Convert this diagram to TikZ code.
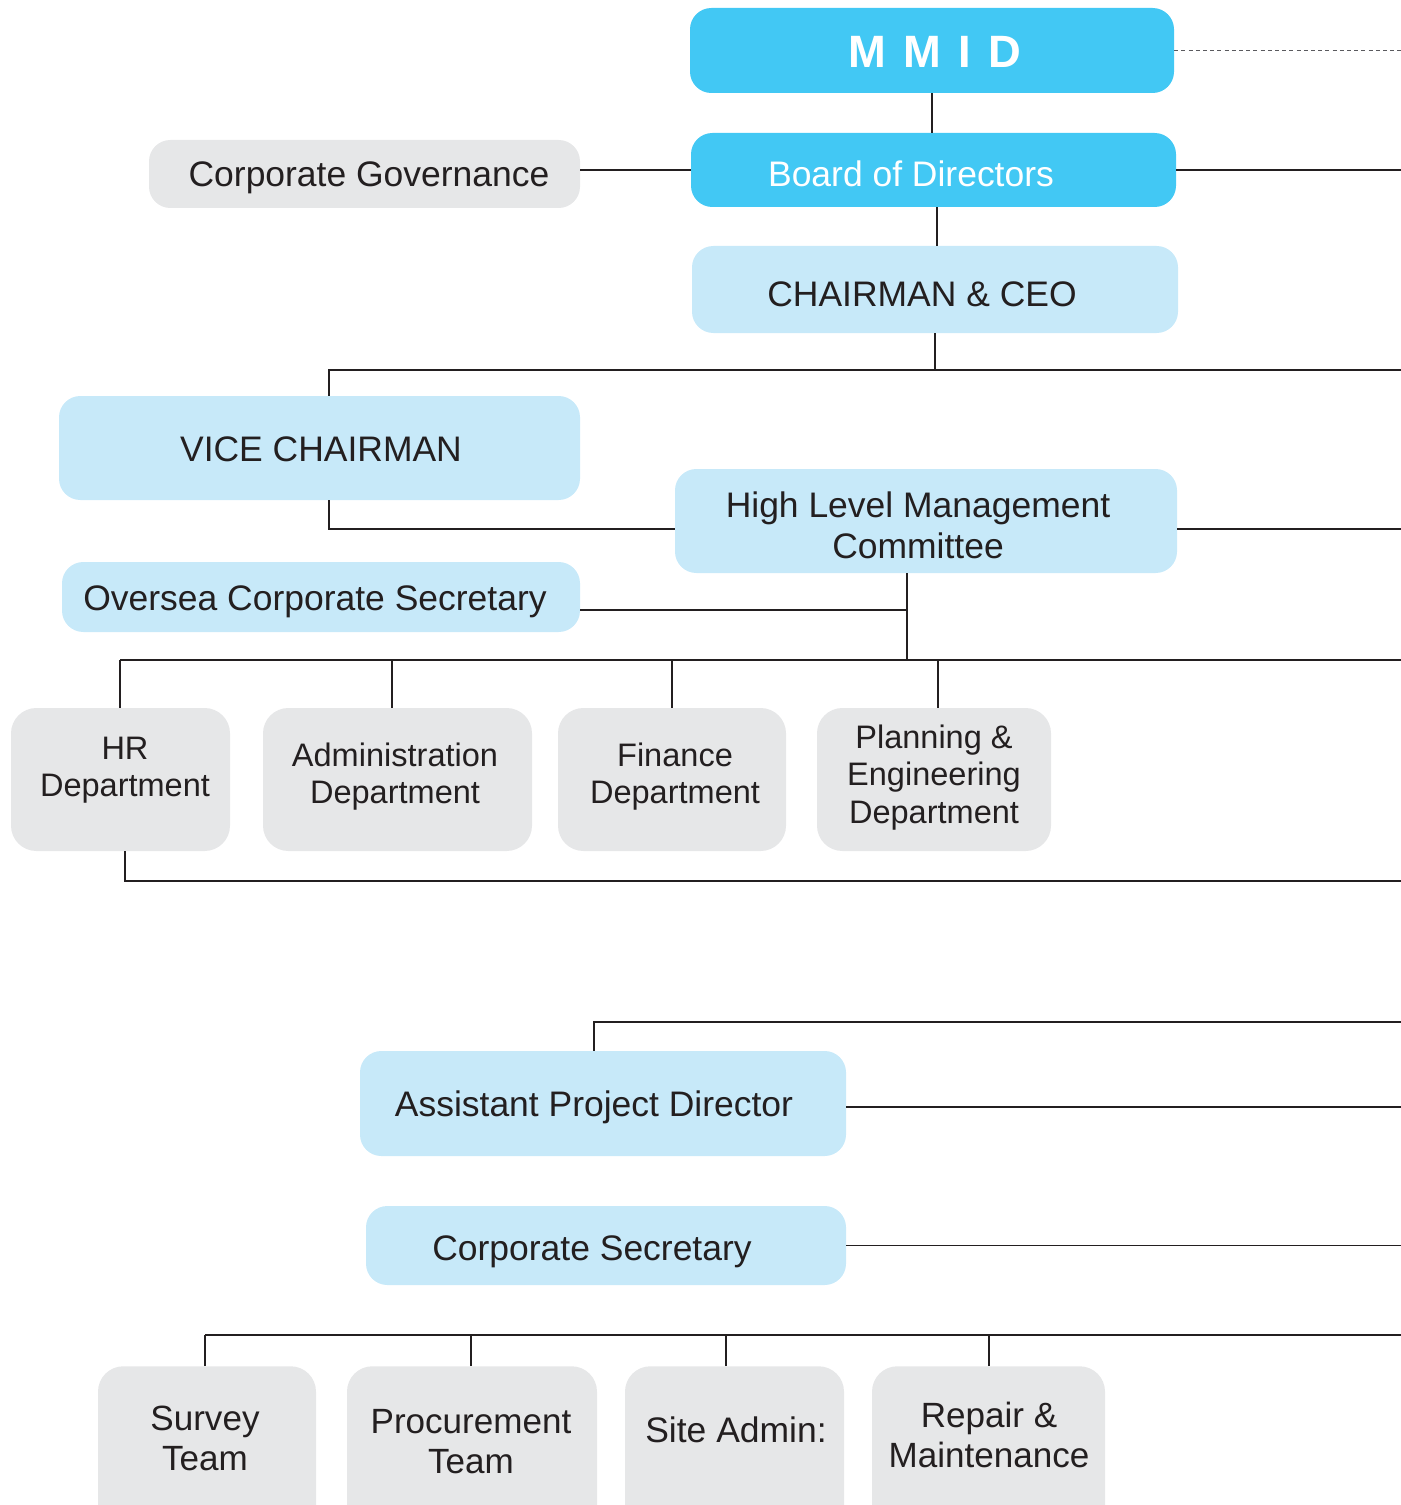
\documentclass[tikz,border=0pt]{standalone}
\usepackage{fontspec}
\setmainfont{Liberation Sans}
\definecolor{bblue}{RGB}{66,200,244}
\definecolor{lblue}{RGB}{199,233,249}
\definecolor{lgray}{RGB}{230,231,232}
\definecolor{ink}{RGB}{35,31,32}
\definecolor{dgray}{RGB}{90,90,94}
\begin{document}
\begin{tikzpicture}[x=0.75pt,y=-0.75pt,
  boxbase/.style={rectangle,rounded corners=16pt,draw=none,inner sep=0pt},
  darkbox/.style={boxbase,fill=bblue},
  lightbox/.style={boxbase,fill=lblue},
  graybox/.style={boxbase,fill=lgray},
  deptbox/.style={graybox,rounded corners=19pt},
  txt/.style={inner sep=0pt,text=ink,font=\fontsize{26.6}{31}\selectfont,text height=19.1pt,text depth=0pt},
  mtxt/.style={inner sep=0pt,text=ink,align=center},
  wtxt/.style={txt,text=white},
  conn/.style={draw=ink,line width=1pt},
  thickconn/.style={draw=ink,line width=1.8pt}]
\clip (0,0) rectangle (1401,1505);
\coordinate (R) at (1401,0);
% boxes
\node[darkbox,minimum width=363pt,minimum height=63.75pt] (mmid) at (932,50.5) {};
\node[darkbox,minimum width=363.75pt,minimum height=55.5pt] (board) at (933.5,170) {};
\node[graybox,minimum width=323.25pt,minimum height=51pt] (cg) at (364.5,174) {};
\node[lightbox,minimum width=364.5pt,minimum height=65.25pt] (ceo) at (935,289.5) {};
\node[lightbox,minimum width=390.75pt,minimum height=78pt] (vice) at (319.5,448) {};
\node[lightbox,minimum width=376.5pt,minimum height=78pt] (hlmc) at (926,521) {};
\node[lightbox,minimum width=388.5pt,minimum height=52.5pt] (ocs) at (321,597) {};
\node[deptbox,minimum width=164.25pt,minimum height=107.25pt] (hr) at (120.5,779.5) {};
\node[deptbox,minimum width=201.75pt,minimum height=107.25pt] (adm) at (397.5,779.5) {};
\node[deptbox,minimum width=171pt,minimum height=107.25pt] (fin) at (672,779.5) {};
\node[deptbox,minimum width=175.5pt,minimum height=107.25pt] (plan) at (934,779.5) {};
\node[lightbox,minimum width=364.5pt,minimum height=78.75pt] (apd) at (603,1103.5) {};
\node[lightbox,minimum width=360pt,minimum height=59.25pt] (cs) at (606,1245.5) {};
\node[deptbox,minimum width=163.5pt,minimum height=130pt,anchor=north] (survey) at (207,1366) {};
\node[deptbox,minimum width=187.5pt,minimum height=130pt,anchor=north] (proc) at (472,1366) {};
\node[deptbox,minimum width=164.25pt,minimum height=130pt,anchor=north] (site) at (734.5,1366) {};
\node[deptbox,minimum width=174.75pt,minimum height=130pt,anchor=north] (rep) at (988.5,1366) {};
% texts
\node[wtxt,font=\fontsize{34}{40}\selectfont\bfseries,text height=24.4pt] (mmidT) at (935,51) {M\hspace{13pt}M\hspace{13pt}I\hspace{13pt}D};
\node[wtxt] (boardT) at (911,173.5) {Board of Directors};
\node[txt] (cgT) at (369,174) {Corporate Governance};
\node[txt] (ceoT) at (922,294) {CHAIRMAN \& CEO};
\node[txt] (viceT) at (321,448.5) {VICE CHAIRMAN};
\node[mtxt,font=\fontsize{26.6}{30.75}\selectfont] (hlmcT) at (918,525.5) {High Level Management\\Committee};
\node[txt] (ocsT) at (315,598) {Oversea Corporate Secretary};
\node[mtxt,font=\fontsize{24.4}{28}\selectfont] (hrT) at (125,770) {HR\\Department};
\node[mtxt,font=\fontsize{24.4}{28}\selectfont] (admT) at (395,776.5) {Administration\\Department};
\node[mtxt,font=\fontsize{24.4}{28}\selectfont] (finT) at (675,776.5) {Finance\\Department};
\node[mtxt,font=\fontsize{24.4}{28}\selectfont] (planT) at (934,777.5) {Planning \&\\Engineering\\Department};
\node[txt] (apdT) at (594,1104) {Assistant Project Director};
\node[txt] (csT) at (592,1248) {Corporate Secretary};
\node[mtxt,font=\fontsize{26.3}{30}\selectfont] (surveyT) at (205,1438) {Survey\\Team};
\node[mtxt,font=\fontsize{26.3}{30}\selectfont] (procT) at (471,1442) {Procurement\\Team};
\node[txt] (siteT) at (736,1430) {Site Admin:};
\node[mtxt,font=\fontsize{26.3}{30}\selectfont] (repT) at (989,1435) {Repair \&\\Maintenance};
% connectors
\coordinate (vx) at (329,370);
\coordinate (vh) at (329,529);
\coordinate (oj) at (907,610);
\coordinate (dl) at (120,660);
\coordinate (dj) at (907,660);
\coordinate (hb) at (125,881);
\coordinate (ap) at (594,1022);
\coordinate (bl) at (205,1335);
\draw[draw=dgray,line width=1.3pt,dash pattern=on 3pt off 2.4pt] (mmid.east) -- (mmid.east -| R);
\draw[conn] (mmid.south) -- (mmid.south |- board.north);
\draw[conn] (cg.east |- board.west) -- (board.west);
\draw[conn] (board.east) -- (board.east -| R);
\draw[conn] ([xshift=2.6pt]board.south) -- ([xshift=2.6pt]board.south |- ceo.north);
\draw[conn] (ceo.south) -- (ceo.south |- vx);
\draw[conn] (vice.north -| vx) -- (vx) -- (vx -| R);
\draw[conn] (vice.south -| vh) -- (vh) -- (vh -| hlmc.west);
\draw[conn] (hlmc.east |- vh) -- (vh -| R);
\draw[conn] (ocs.east |- oj) -- (oj);
\draw[conn] (hlmc.south -| dj) -- (dj);
\draw[thickconn] (dl) -- (dl -| R);
\draw[conn] (hr.north -| dl) -- (dl);
\draw[conn] ([xshift=-4.1pt]adm.north) -- ([xshift=-4.1pt]adm.north |- dl);
\draw[conn] (fin.north) -- (fin.north |- dl);
\draw[conn] ([xshift=3pt]plan.north) -- ([xshift=3pt]plan.north |- dl);
\draw[conn] (hr.south -| hb) -- (hb) -- (hb -| R);
\draw[conn] (apd.north -| ap) -- (ap) -- (ap -| R);
\draw[conn] ([yshift=-2.6pt]apd.east) -- ([yshift=-2.6pt]apd.east -| R);
\draw[conn] (cs.east) -- (cs.east -| R);
\draw[conn] (bl) -- (bl -| R);
\draw[conn] (survey.north -| bl) -- (bl);
\draw[conn] ([xshift=-0.75pt]proc.north) -- ([xshift=-0.75pt]proc.north |- bl);
\draw[conn] ([xshift=-6.4pt]site.north) -- ([xshift=-6.4pt]site.north |- bl);
\draw[conn] ([xshift=0.4pt]rep.north) -- ([xshift=0.4pt]rep.north |- bl);
\end{tikzpicture}
\end{document}
